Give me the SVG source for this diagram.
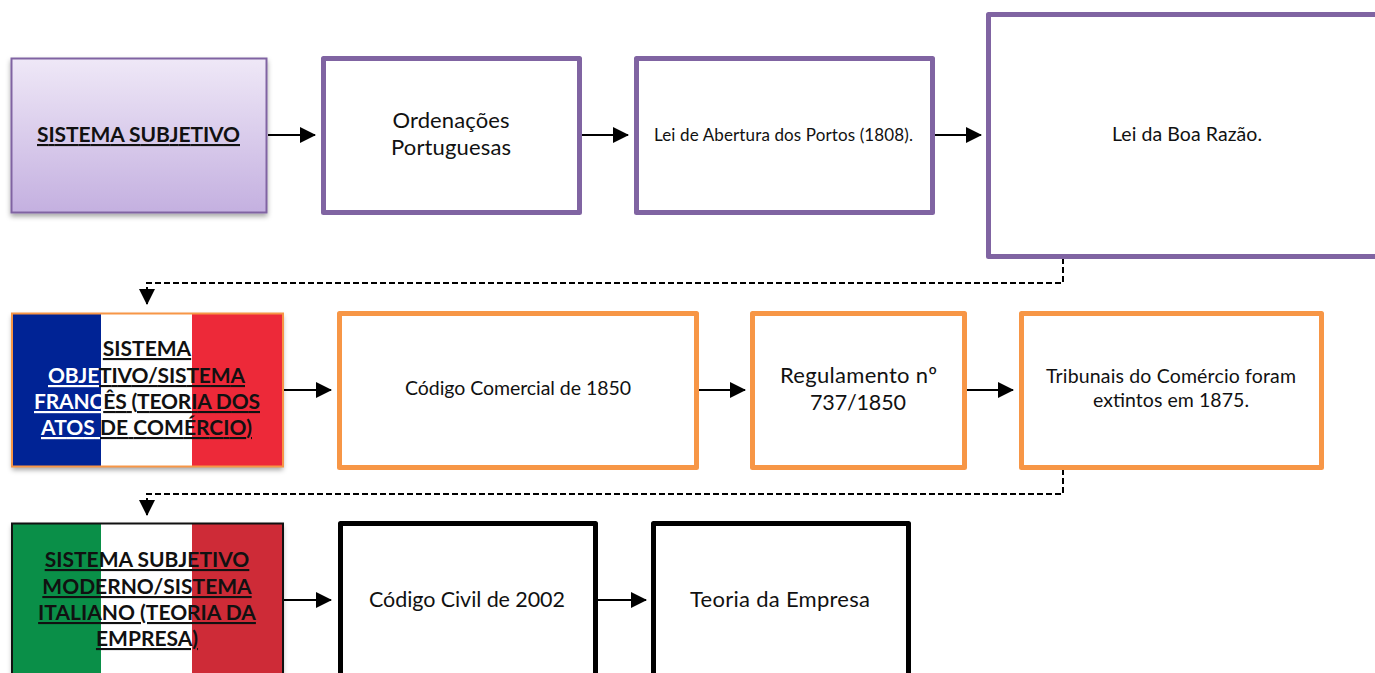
<svg xmlns="http://www.w3.org/2000/svg" width="1375" height="673" viewBox="0 0 1375 673">
<style>
text{font-family:"Lato","Open Sans","Liberation Sans",sans-serif;fill:#111;text-anchor:middle}
.t{font-size:21px;font-weight:700;text-decoration:underline}
.t tspan{text-decoration:underline}
.w{fill:#fff}
.n{fill:#fff;stroke-width:5;stroke-linejoin:round}
.p{stroke:#8064a2}.o{stroke:#f79646}.k{stroke:#000}
.c{fill:none;stroke:#000;stroke-width:2}
.d{stroke-dasharray:6 3}
</style>
<defs>
<linearGradient id="pg" x1="0" y1="0" x2="0" y2="1"><stop offset="0" stop-color="#efe8f7"/><stop offset="1" stop-color="#c4b0e0"/></linearGradient>
<filter id="sh" x="-5%" y="-5%" width="110%" height="115%"><feDropShadow dx="0" dy="3" stdDeviation="2.5" flood-color="#000" flood-opacity=".35"/></filter>
<marker id="a" markerUnits="userSpaceOnUse" markerWidth="16" markerHeight="16" refX="15" refY="8" orient="auto"><path d="M0 0L16 8L0 16z" fill="#000"/></marker>
</defs>
<g id="connectors">
<path class="c" marker-end="url(#a)" d="M268 135H315"/>
<path class="c" marker-end="url(#a)" d="M582 135H628"/>
<path class="c" marker-end="url(#a)" d="M935 135H981"/>
<path class="c d" d="M1063 258V283H147V289"/>
<path class="c" marker-end="url(#a)" d="M147 289V304"/>
<path class="c" marker-end="url(#a)" d="M284 390H331"/>
<path class="c" marker-end="url(#a)" d="M699 390H745"/>
<path class="c" marker-end="url(#a)" d="M967 390H1013"/>
<path class="c d" d="M1063 469V494H147V500"/>
<path class="c" marker-end="url(#a)" d="M147 500V515"/>
<path class="c" marker-end="url(#a)" d="M283 600H331"/>
<path class="c" marker-end="url(#a)" d="M598 600H646"/>
</g>
<g id="n1">
<rect x="11.500" y="58.500" width="255" height="154" fill="url(#pg)" stroke="#8064a2" stroke-width="2" filter="url(#sh)"/>
<text class="t" x="138.500" y="142" textLength="203">SISTEMA SUBJETIVO</text>
</g>
<g id="n2"><rect class="n p" x="323.500" y="58.500" width="256" height="154"/>
<text x="451" y="128" font-size="22" textLength="117">Ordenações</text><text x="451" y="155" font-size="22" textLength="120">Portuguesas</text></g>
<g id="n3"><rect class="n p" x="636.500" y="58.500" width="296" height="154"/>
<text x="783.500" y="141" font-size="17" textLength="259">Lei de Abertura dos Portos (1808).</text></g>
<g id="n4"><rect class="n p" x="988.500" y="14.500" width="400" height="242"/>
<text x="1187" y="141" font-size="19.500" textLength="150">Lei da Boa Razão.</text></g>
<g id="n5">
<rect x="12" y="313" width="271" height="154" fill="#fff" filter="url(#sh)"/>
<rect x="12" y="314" width="89" height="152" fill="#002395"/>
<rect x="192" y="314" width="91" height="152" fill="#ed2939"/>
<rect x="12" y="313.500" width="271" height="153" fill="none" stroke="#f79646" stroke-width="2"/>
<text class="t" x="147" y="356">SISTEMA</text>
<text class="t" x="146.500" y="383" textLength="197"><tspan class="w">OBJE</tspan>TIVO/SISTEMA</text>
<text class="t" x="147" y="409" textLength="226"><tspan class="w">FRANC</tspan>ÊS (TEORIA DOS</text>
<text class="t" x="146.500" y="435" textLength="211"><tspan class="w">ATOS </tspan>DE COMÉRCIO)</text>
</g>
<g id="n6"><rect class="n o" x="339.500" y="313.500" width="357" height="154"/>
<text x="518" y="395" font-size="19.500" textLength="226">Código Comercial de 1850</text></g>
<g id="n7"><rect class="n o" x="752.500" y="313.500" width="212" height="154"/>
<text x="858.500" y="383" font-size="22" textLength="157">Regulamento nº</text><text x="858" y="410" font-size="21.500" textLength="96">737/1850</text></g>
<g id="n8"><rect class="n o" x="1021.500" y="313.500" width="300" height="154"/>
<text x="1171" y="383" font-size="19.500" textLength="250">Tribunais do Comércio foram</text><text x="1171" y="407" font-size="19.500" textLength="156">extintos em 1875.</text></g>
<g id="n9">
<rect x="12" y="523" width="271" height="160" fill="#fff" filter="url(#sh)"/>
<rect x="12" y="524" width="89" height="159" fill="#0a8f48"/>
<rect x="192" y="524" width="91" height="159" fill="#ce2b37"/>
<rect x="12" y="523.500" width="271" height="160" fill="none" stroke="#111" stroke-width="2"/>
<text class="t" x="147" y="567">SISTEMA SUBJETIVO</text>
<text class="t" x="147" y="594">MODERNO/SISTEMA</text>
<text class="t" x="147" y="620">ITALIANO (TEORIA DA</text>
<text class="t" x="147" y="646">EMPRESA)</text>
</g>
<g id="n10"><rect class="n k" x="340.500" y="523.500" width="255" height="160"/>
<text x="467" y="607" font-size="21.500" textLength="196">Código Civil de 2002</text></g>
<g id="n11"><rect class="n k" x="653.500" y="523.500" width="255" height="160"/>
<text x="780" y="607" font-size="22" textLength="180">Teoria da Empresa</text></g>
</svg>
